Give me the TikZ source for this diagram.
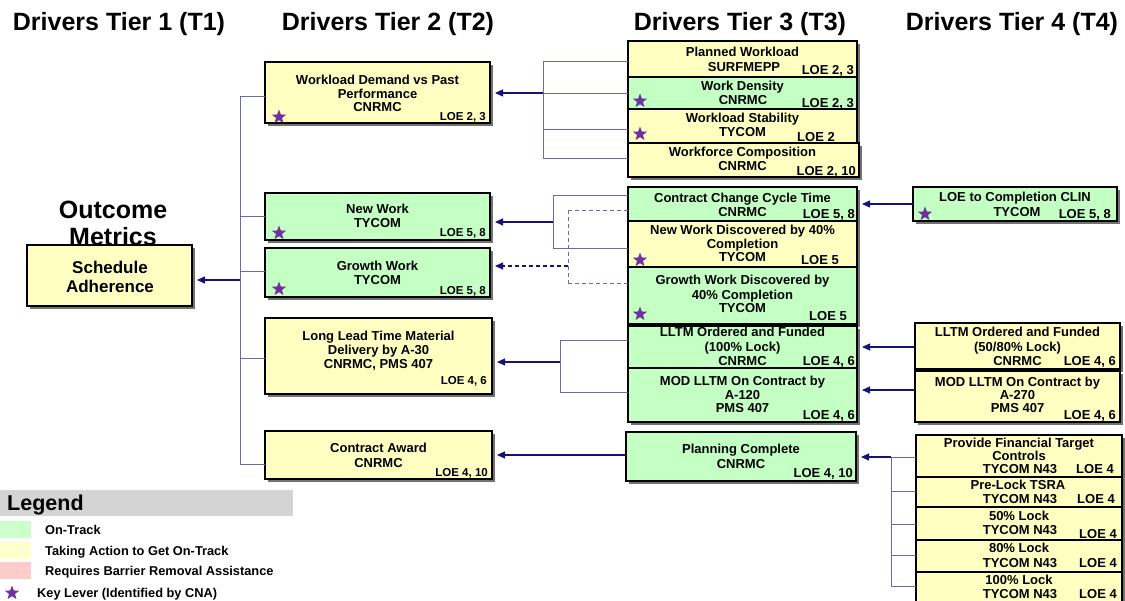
\documentclass[tikz,border=0pt]{standalone}
\usepackage{fontspec}
\setmainfont{Liberation Sans}
\usetikzlibrary{shapes.geometric,shadows,arrows.meta,calc}
\definecolor{yel}{HTML}{FFFFC2}
\definecolor{grn}{HTML}{C4FFC4}
\definecolor{lgrn}{HTML}{CCFFCC}
\definecolor{lyel}{HTML}{FFFFCC}
\definecolor{lpink}{HTML}{FFCCCC}
\definecolor{legbarc}{HTML}{D4D4D4}
\definecolor{starc}{HTML}{7030A0}
\definecolor{treec}{RGB}{105,105,180}
\definecolor{arrc}{RGB}{20,20,120}
\tikzset{
  box/.style={draw=black, line width=1.4pt, rectangle, inner sep=0pt, outer sep=0pt,
    drop shadow={shadow xshift=3pt, shadow yshift=-3pt, fill=black!85, opacity=0.65}},
  title/.style={font=\fontsize{25}{28}\selectfont\bfseries, inner sep=0pt, text height=18pt, text depth=0pt},
  big/.style={font=\fontsize{17}{20}\selectfont\bfseries, inner sep=0pt, text height=12.2pt, text depth=0pt},
  txt/.style={font=\fontsize{13}{15}\selectfont\bfseries, inner sep=0pt, text height=9.3pt, text depth=0pt},
  loe/.style={font=\fontsize{13}{15}\selectfont\bfseries, inner sep=0pt, text height=9.3pt, text depth=0pt},
  loes/.style={font=\fontsize{11.5}{13}\selectfont\bfseries, inner sep=0pt, text height=8.2pt, text depth=0pt},
  keystar/.style={star, star points=5, star point ratio=2.4, fill=starc, draw=none, minimum size=15pt, inner sep=0pt},
  tree/.style={draw=treec, line width=0.9pt},
  dtree/.style={tree, dash pattern=on 4pt off 3pt},
  arr/.style={draw=arrc, line width=1.1pt, shorten >=5pt, -{Triangle[length=8pt,width=7pt]}},
  darr/.style={arr, dash pattern=on 4pt off 3pt},
  sw/.style={anchor=north west, minimum width=31pt, minimum height=17pt, inner sep=0pt, outer sep=0pt},
  legtxt/.style={anchor=west, font=\fontsize{12.8}{15}\selectfont\bfseries, inner sep=0pt, text height=9.2pt, text depth=0pt},
}
\newcommand\BX[6]{\node[box, fill=#2, minimum width={(#5)-(#3)}, minimum height={(#6)-(#4)}, anchor=north west] (#1) at (#3,#4) {};}
\newcommand\TX[4]{\node[txt] (#1) at (#2,#3) {#4};}
\newcommand\LOER[4]{\node[loe, anchor=east] (#1) at (#2,#3) {#4};}
\newcommand\LOEC[4]{\node[loe] (#1) at (#2,#3) {#4};}
\newcommand\LOES[4]{\node[loes, anchor=east] (#1) at (#2,#3) {#4};}
\newcommand\STAR[3]{\node[keystar] (#1) at (#2,#3) {};}
\begin{document}
\begin{tikzpicture}[x=1pt,y=-1pt]
\useasboundingbox (0,0) rectangle (1125,601);
% titles
\node[title] (h1) at (119,22) {Drivers Tier 1 (T1)};
\node[title] (h2) at (388,22) {Drivers Tier 2 (T2)};
\node[title] (h3) at (740,22) {Drivers Tier 3 (T3)};
\node[title] (h4) at (1012,22) {Drivers Tier 4 (T4)};
\node[title] (om1) at (113,210) {Outcome};
\node[title] (om2) at (113,237) {Metrics};
% Tier 1
\BX{sched}{yel}{27}{245}{192}{306}
\node[big] (sc1) at (110,267) {Schedule};
\node[big] (sc2) at (110,286) {Adherence};
% Tier 2
\BX{wd}{yel}{265}{62}{490}{123}
\TX{wd1}{377.5}{80}{Workload Demand vs Past}
\TX{wd2}{377.5}{94}{Performance}
\TX{wd3}{377.5}{107}{CNRMC}
\LOES{wdL}{486}{116}{LOE 2, 3}
\STAR{wdS}{279}{117}
\BX{nw}{grn}{265}{193}{490}{240}
\TX{nw1}{377.5}{209}{New Work}
\TX{nw2}{377.5}{223}{TYCOM}
\LOES{nwL}{486}{232}{LOE 5, 8}
\STAR{nwS}{279}{233}
\BX{gw}{grn}{265}{248}{490}{297}
\TX{gw1}{377.5}{266}{Growth Work}
\TX{gw2}{377.5}{280}{TYCOM}
\LOES{gwL}{486}{290}{LOE 5, 8}
\STAR{gwS}{279}{289}
\BX{ll}{yel}{265}{318}{492}{394}
\TX{ll1}{378.5}{336}{Long Lead Time Material}
\TX{ll2}{378.5}{350}{Delivery by A-30}
\TX{ll3}{378.5}{364}{CNRMC, PMS 407}
\LOES{llL}{487}{380}{LOE 4, 6}
\BX{ca}{yel}{265}{431}{492}{479}
\TX{ca1}{378.5}{448}{Contract Award}
\TX{ca2}{378.5}{463}{CNRMC}
\LOES{caL}{488}{472}{LOE 4, 10}
% Tier 3
\BX{pw}{yel}{628}{41}{857}{77}
\TX{pw1}{742.5}{52}{Planned Workload}
\TX{pw2}{744}{67}{SURFMEPP}
\LOER{pwL}{854}{70}{LOE 2, 3}
\BX{wdn}{grn}{628}{77}{857}{109}
\TX{wdn1}{742.5}{86}{Work Density}
\TX{wdn2}{743}{100}{CNRMC}
\LOER{wdnL}{854}{103}{LOE 2, 3}
\STAR{wdnS}{640}{101}
\BX{ws}{yel}{628}{109}{857}{143}
\TX{ws1}{742.5}{118}{Workload Stability}
\TX{ws2}{742.5}{132}{TYCOM}
\LOEC{wsL}{816}{137}{LOE 2}
\STAR{wsS}{640}{134}
\BX{wc}{yel}{628}{143}{859}{177}
\TX{wc1}{742.5}{152}{Workforce Composition}
\TX{wc2}{742.5}{166}{CNRMC}
\LOER{wcL}{856}{171}{LOE 2, 10}
\BX{cc}{grn}{628}{187}{857}{221}
\TX{cc1}{742.5}{198}{Contract Change Cycle Time}
\TX{cc2}{742.5}{212}{CNRMC}
\LOER{ccL}{855}{214}{LOE 5, 8}
\BX{nwd}{yel}{628}{221}{857}{267}
\TX{nwd1}{742.5}{230}{New Work Discovered by 40\%}
\TX{nwd2}{742.5}{244}{Completion}
\TX{nwd3}{742.5}{257}{TYCOM}
\LOEC{nwdL}{820}{260}{LOE 5}
\STAR{nwdS}{640}{260}
\BX{gwd}{grn}{628}{267}{857}{324}
\TX{gwd1}{742.5}{280}{Growth Work Discovered by}
\TX{gwd2}{742.5}{295}{40\% Completion}
\TX{gwd3}{742.5}{308}{TYCOM}
\LOEC{gwdL}{828}{316}{LOE 5}
\STAR{gwdS}{640}{314}
\BX{lo}{grn}{628}{326}{857}{368}
\TX{lo1}{742.5}{332}{LLTM Ordered and Funded}
\TX{lo2}{742.5}{347}{(100\% Lock)}
\TX{lo3}{742.5}{361}{CNRMC}
\LOER{loL}{855}{361}{LOE 4, 6}
\BX{lm}{grn}{628}{368}{857}{422}
\TX{lm1}{742.5}{381}{MOD LLTM On Contract by}
\TX{lm2}{742.5}{395}{A-120}
\TX{lm3}{742.5}{408}{PMS 407}
\LOER{lmL}{855}{415}{LOE 4, 6}
\BX{pc}{grn}{626}{432}{856}{481}
\TX{pc1}{741}{449}{Planning Complete}
\TX{pc2}{741}{464}{CNRMC}
\LOER{pcL}{853}{473}{LOE 4, 10}
% Tier 4
\BX{lc}{grn}{913}{187}{1117}{221}
\TX{lc1}{1015}{197}{LOE to Completion CLIN}
\TX{lc2}{1017}{212}{TYCOM}
\LOER{lcL}{1111}{214}{LOE 5, 8}
\STAR{lcS}{925}{214}
\BX{fo}{yel}{915}{323}{1120}{369}
\TX{fo1}{1017.5}{332}{LLTM Ordered and Funded}
\TX{fo2}{1017.5}{347}{(50/80\% Lock)}
\TX{fo3}{1017.5}{361}{CNRMC}
\LOER{foL}{1116}{361}{LOE 4, 6}
\BX{fm}{yel}{915}{371}{1120}{422}
\TX{fm1}{1017.5}{382}{MOD LLTM On Contract by}
\TX{fm2}{1017.5}{395}{A-270}
\TX{fm3}{1017.5}{408}{PMS 407}
\LOER{fmL}{1116}{415}{LOE 4, 6}
\BX{pf}{yel}{916}{435}{1122}{477}
\TX{pf1}{1019}{443}{Provide Financial Target}
\TX{pf2}{1019}{456}{Controls}
\TX{pf3}{1020}{469}{TYCOM N43}
\LOEC{pfL}{1095}{469}{LOE 4}
\BX{pl}{yel}{916}{477}{1122}{507}
\TX{pl1}{1018}{485}{Pre-Lock TSRA}
\TX{pl2}{1020}{499}{TYCOM N43}
\LOEC{plL}{1096}{499}{LOE 4}
\BX{lf}{yel}{916}{507}{1122}{540}
\TX{lf1}{1019}{516}{50\% Lock}
\TX{lf2}{1020}{530}{TYCOM N43}
\LOEC{lfL}{1098}{534}{LOE 4}
\BX{le}{yel}{916}{540}{1122}{572}
\TX{le1}{1019}{548}{80\% Lock}
\TX{le2}{1020}{563}{TYCOM N43}
\LOEC{leL}{1098}{563}{LOE 4}
\BX{lh}{yel}{916}{572}{1122}{625}
\TX{lh1}{1019}{580}{100\% Lock}
\TX{lh2}{1020}{594}{TYCOM N43}
\LOEC{lhL}{1098}{594}{LOE 4}
% connectors T2 -> T1
\coordinate (b1a) at (240,96);
\coordinate (b1b) at (240,216);
\coordinate (b1c) at (240,271);
\coordinate (b1d) at (240,358);
\coordinate (b1e) at (240,464);
\coordinate (b1o) at (240,280);
\draw[tree] (b1a) -- (b1e);
\draw[tree] (b1a) -- (b1a -| wd.west);
\draw[tree] (b1b) -- (b1b -| nw.west);
\draw[tree] (b1c) -- (b1c -| gw.west);
\draw[tree] (b1d) -- (b1d -| ll.west);
\draw[tree] (b1e) -- (b1e -| ca.west);
\draw[arr] (b1o) -- (b1o -| sched.east);
% T3 -> Workload Demand
\coordinate (b2a) at (543,61);
\coordinate (b2b) at (543,93);
\coordinate (b2c) at (543,129);
\coordinate (b2d) at (543,158);
\draw[tree] (b2a) -- (b2d);
\draw[tree] (b2a) -- (b2a -| pw.west);
\draw[tree] (b2b) -- (b2b -| wdn.west);
\draw[tree] (b2c) -- (b2c -| ws.west);
\draw[tree] (b2d) -- (b2d -| wc.west);
\draw[arr] (b2b) -- (b2b -| wd.east);
% T3 -> New Work (solid)
\coordinate (b3a) at (553,195);
\coordinate (b3b) at (553,248);
\coordinate (b3o) at (553,222);
\draw[tree] (b3a) -- (b3b);
\draw[tree] (b3a) -- (b3a -| cc.west);
\draw[tree] (b3b) -- (b3b -| nwd.west);
\draw[arr] (b3o) -- (b3o -| nw.east);
% T3 -> Growth Work (dashed)
\coordinate (b4a) at (568,210);
\coordinate (b4b) at (568,283);
\coordinate (b4o) at (568,266);
\draw[dtree] (b4a) -- (b4b);
\draw[dtree] (b4a) -- (b4a -| cc.west);
\draw[dtree] (b4b) -- (b4b -| gwd.west);
\draw[darr] (b4o) -- (b4o -| gw.east);
% T3 -> Long Lead
\coordinate (b5a) at (560,340);
\coordinate (b5b) at (560,392);
\coordinate (b5o) at (560,362);
\draw[tree] (b5a) -- (b5b);
\draw[tree] (b5a) -- (b5a -| lo.west);
\draw[tree] (b5b) -- (b5b -| lm.west);
\draw[arr] (b5o) -- (b5o -| ll.east);
% Planning Complete -> Contract Award
\coordinate (c1) at (600,455);
\draw[arr] (c1 -| pc.west) -- (c1 -| ca.east);
% T4 -> T3
\coordinate (c2) at (900,204);
\draw[arr] (c2 -| lc.west) -- (c2 -| cc.east);
\coordinate (c3) at (900,347);
\draw[arr] (c3 -| fo.west) -- (c3 -| lo.east);
\coordinate (c4) at (900,390);
\draw[arr] (c4 -| fm.west) -- (c4 -| lm.east);
\coordinate (b6a) at (891,457);
\coordinate (b6b) at (891,491);
\coordinate (b6c) at (891,524);
\coordinate (b6d) at (891,555);
\coordinate (b6e) at (891,586);
\draw[tree] (b6a) -- (b6e);
\draw[tree] (b6a) -- (b6a -| pf.west);
\draw[tree] (b6b) -- (b6b -| pl.west);
\draw[tree] (b6c) -- (b6c -| lf.west);
\draw[tree] (b6d) -- (b6d -| le.west);
\draw[tree] (b6e) -- (b6e -| lh.west);
\draw[arr] (b6a) -- (b6a -| pc.east);
% legend
\node[fill=legbarc, inner sep=0pt, outer sep=0pt, minimum width=293pt, minimum height=26pt, anchor=north west] (lgbar) at (0,490) {};
\node[anchor=west, inner sep=0pt, font=\fontsize{21.5}{24}\selectfont\bfseries, text height=15.4pt, text depth=0pt] (lgt) at (7,503) {Legend};
\node[sw, fill=lgrn] (sw1) at (0,521) {};
\node[sw, fill=lyel] (sw2) at (0,542) {};
\node[sw, fill=lpink] (sw3) at (0,562) {};
\node[legtxt] (lg1) at (45,530) {On-Track};
\node[legtxt] (lg2) at (45,551) {Taking Action to Get On-Track};
\node[legtxt] (lg3) at (45,571) {Requires Barrier Removal Assistance};
\node[keystar] (lgS) at (12,593) {};
\node[legtxt] (lg4) at (37,593) {Key Lever (Identified by CNA)};
\end{tikzpicture}
\end{document}
